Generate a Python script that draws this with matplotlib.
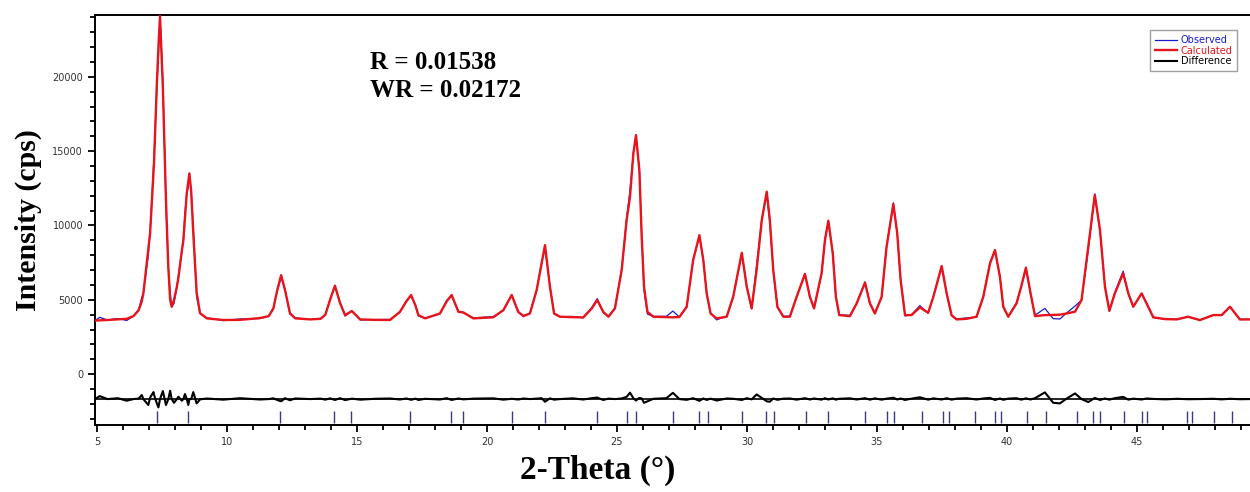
import matplotlib
matplotlib.use("Agg")
import matplotlib.pyplot as plt
import numpy as np

# 2-theta grid (deg), calculated intensity and difference (obs - calc)
two_theta = [4.92, 5.10, 5.40, 5.80, 6.14, 6.40, 6.60, 6.72, 6.78, 6.97, 7.04, 7.17, 7.19,
             7.30, 7.36, 7.42, 7.53, 7.65, 7.74, 7.81, 7.87, 7.96, 8.07, 8.13, 8.26, 8.32,
             8.38, 8.45, 8.51, 8.55, 8.62, 8.70, 8.83, 8.96, 9.22, 9.85,
             10.50, 11.27, 11.60, 11.78, 11.93, 12.08, 12.23, 12.42, 12.62, 13.20,
             13.60, 13.78, 13.96, 14.15, 14.35, 14.54, 14.80, 15.12, 15.70,
             16.27, 16.65, 16.90, 17.08, 17.25, 17.36, 17.62, 18.19, 18.45, 18.64,
             18.90, 19.09, 19.47, 20.24, 20.63, 20.95, 21.20, 21.40, 21.65, 21.91,
             22.10, 22.23, 22.42, 22.58, 22.81, 23.30, 23.70,
             24.03, 24.24, 24.47, 24.67, 24.92, 25.18, 25.37, 25.50, 25.63,
             25.73, 25.86, 25.95, 26.04, 26.17, 26.40, 26.90, 27.15, 27.40,
             27.68, 27.93, 28.17, 28.32, 28.45, 28.60, 28.83, 29.22, 29.47, 29.80,
             29.99, 30.18, 30.37, 30.57, 30.76, 30.88, 31.01, 31.17, 31.40, 31.65,
             31.91, 32.23, 32.42, 32.58, 32.87, 33.00, 33.13, 33.30, 33.42, 33.55,
             33.96, 34.22, 34.54, 34.73, 34.92, 35.18, 35.37, 35.63, 35.78, 35.91,
             36.08, 36.33, 36.65, 36.97, 37.17, 37.49, 37.68, 37.87, 38.06, 38.45,
             38.83, 39.09, 39.35, 39.54, 39.73, 39.86, 40.05, 40.37, 40.55, 40.73,
             40.91, 41.08, 41.46, 41.78, 42.04, 42.30, 42.62, 42.87, 43.13, 43.38,
             43.58, 43.77, 43.94, 44.15, 44.47, 44.67, 44.86, 45.18, 45.37, 45.63,
             46.10, 46.53, 46.97, 47.42, 47.94, 48.26, 48.58, 48.96, 49.35]

calculated = [3600, 3620, 3640, 3680, 3720, 3900, 4300, 4900, 5430, 8390, 9490, 13530, 14200,
              19580, 22000, 24100, 19300, 11710, 7200, 5000, 4530, 5000, 5880, 6500, 8300, 9020,
              10500, 12170, 13000, 13500, 12300, 9490, 5500, 4100, 3750, 3640,
              3650, 3770, 3900, 4400, 5650, 6660, 5650, 4100, 3750, 3680,
              3720, 4000, 4980, 5950, 4760, 3970, 4240, 3680, 3650,
              3640, 4190, 4900, 5320, 4600, 3970, 3750, 4080, 4900, 5320,
              4190, 4150, 3750, 3820, 4310, 5320, 4190, 3900, 4080, 5650,
              7450, 8680, 5880, 4080, 3860, 3830, 3815,
              4420, 4980, 4190, 3860, 4420, 7000, 10360, 11930, 14850,
              16080, 13730, 9240, 5880, 4190, 3860, 3830, 3820, 3840,
              4530, 7670, 9350, 7670, 5430, 4080, 3750, 3860, 5200, 8160,
              5880, 4420, 7000, 10360, 12270, 10360, 7000, 4530, 3860, 3860,
              5200, 6730, 5200, 4420, 6780, 9020, 10320, 8120, 5200, 3970,
              3900, 4760, 6150, 4760, 4080, 5200, 8570, 11440, 9470, 6330,
              3970, 3970, 4490, 4130, 5200, 7270, 5430, 3970, 3680, 3720,
              3860, 5200, 7450, 8350, 6550, 4530, 3860, 4760, 5900, 7150,
              5430, 3900, 3970, 3980, 4000, 4080, 4200, 4980, 8570, 12050,
              9690, 5880, 4260, 5430, 6780, 5430, 4530, 5430, 4760, 3815,
              3700, 3680, 3860, 3634, 3970, 3970, 4530, 3680, 3680]

difference = [0, 200, 0, 60, -110, 0, 40, 270, 0, -400, 100, 470, 300,
              -300, -560, 0, 540, -400, 0, 560, 0, -250, 0, 160, -110, 0,
              340, 0, -400, 0, 0, 470, -290, -20, 40, -40,
              60, -30, 0, 50, -60, -150, 60, -80, 40, 0,
              30, -40, 50, -60, 60, -70, 30, -40, 20,
              40, -30, 40, -50, 30, -60, 20, -30, 60, -60,
              40, -20, 30, 50, -40, 20, -30, 40, 0, 30,
              60, -180, 50, -40, 0, 50, -30,
              60, 100, -60, 30, 0, 40, 150, 430, 60,
              -100, 80, 40, -250, -150, 20, 60, 420, 0,
              -50, 60, -120, 40, -60, 30, -100, 40, 20, -60,
              60, -20, 310, 80, -150, -180, 40, -50, 30, 40,
              -40, 60, -30, 40, -40, 60, -30, 50, -40, 20,
              50, -30, 60, -40, 50, -40, 30, 90, -30, 40,
              -60, 30, 120, -40, 50, -30, 60, -40, 30, 60,
              -30, 40, 80, -60, 40, -50, 30, 60, -40, 50,
              -30, 60, 450, -250, -290, 40, 380, 0, -200, 80,
              -60, 40, -40, 60, 150, -40, 30, -30, 40, 10,
              -20, 20, -10, 0, 20, -20, 20, -10, 0]

# reflection positions (deg)
reflections = [7.32, 8.51, 12.05, 14.13, 14.76, 17.05, 18.62, 19.09, 20.95, 22.23, 24.24,
               25.37, 25.72, 27.17, 28.17, 28.51, 29.82, 30.72, 31.05, 32.26, 33.13, 34.55,
               35.37, 35.67, 36.73, 37.53, 37.77, 38.77, 39.53, 39.77, 40.76, 41.49, 42.68,
               43.32, 43.58, 44.50, 45.18, 45.37, 46.92, 47.13, 47.97, 48.64]

diff_offset = -1680
r_value = "R = 0.01538"
wr_value = "WR = 0.02172"

x = np.array(two_theta)
calc = np.array(calculated)
diff = np.array(difference)
obs = calc + diff

fig = plt.figure(figsize=(12.5, 4.92), dpi=100)
ax = fig.add_axes([0.076, 0.136, 0.924, 0.8335])

ax.plot(x, obs, color="#1c1cc8", lw=0.9, label="Observed", zorder=3)
ax.plot(x, calc, color="#e8141c", lw=1.7, label="Calculated", zorder=4)
ax.axhline(diff_offset, color="black", lw=1.2, zorder=2)
ax.plot(x, diff + diff_offset, color="black", lw=1.5, label="Difference", zorder=3)
ax.vlines(reflections, -3300, -2490, color="#3a3a80", lw=1.0)

ax.set_xlim(4.92, 49.35)
ax.set_ylim(-3430, 24160)
ax.set_xticks(range(5, 50, 5))
ax.set_xticks(range(5, 50), minor=True)
ax.set_yticks(range(0, 20001, 5000))
ax.set_yticks(range(-3000, 24001, 1000), minor=True)
ax.tick_params(which="both", labelsize=7, labelcolor="#333333", width=1.3, direction="out")
ax.tick_params(which="major", length=5)
ax.tick_params(which="minor", length=3.5)
ax.spines["right"].set_visible(False)
for s in ["left", "bottom", "top"]:
    ax.spines[s].set_linewidth(1.4)

ax.set_ylabel("Intensity (cps)", fontsize=21.5, fontweight="bold", family="Liberation Serif")
ax.yaxis.set_label_coords(-0.046, 0.5)
ax.set_xlabel("2-Theta (°)", fontsize=24, fontweight="bold", family="Liberation Serif")
ax.xaxis.set_label_coords(0.435, -0.072)

ax.text(0.238, 0.885, r_value, transform=ax.transAxes, fontsize=18, fontweight="bold",
        family="Liberation Serif", va="center")
ax.text(0.238, 0.815, wr_value, transform=ax.transAxes, fontsize=18, fontweight="bold",
        family="Liberation Serif", va="center")

leg = ax.legend(loc="upper right", bbox_to_anchor=(0.989, 0.963), borderaxespad=0, fontsize=7,
                frameon=True, fancybox=False, edgecolor="#888888", handlelength=2.2,
                handletextpad=0.4, borderpad=0.5, labelspacing=0.05)
for txt, line in zip(leg.get_texts(), leg.get_lines()):
    txt.set_color(line.get_color())

fig.savefig("out.png", dpi=100)
